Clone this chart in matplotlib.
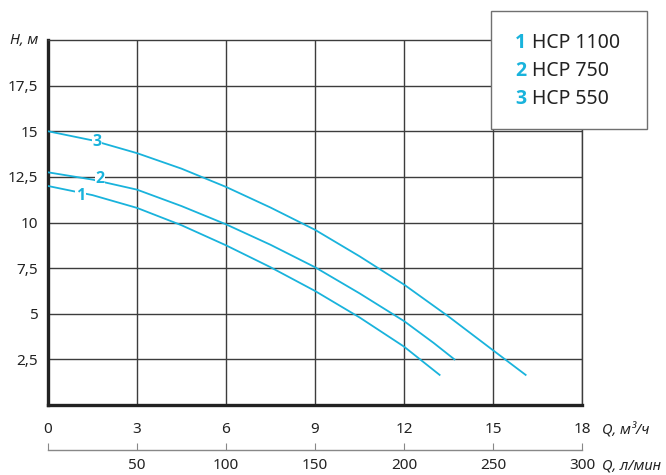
import matplotlib
matplotlib.use('Agg')
import matplotlib.pyplot as plt
from matplotlib.patches import Rectangle

plt.rcParams['font.family'] = ['Noto Sans', 'DejaVu Sans']

# подача, м3/ч и напор, м
q_550 = [0, 1.5, 3, 4.5, 6, 7.5, 9, 10.5, 12, 13.5, 15, 16.1]
h_550 = [15.0, 14.5, 13.8, 12.95, 11.95, 10.82, 9.6, 8.15, 6.6, 4.85, 3.0, 1.65]
q_750 = [0, 1.5, 3, 4.5, 6, 7.5, 9, 10.5, 12, 13.0, 13.7]
h_750 = [12.75, 12.35, 11.8, 10.9, 9.9, 8.78, 7.55, 6.12, 4.6, 3.4, 2.5]
q_1100 = [0, 1.5, 3, 4.5, 6, 7.5, 9, 10.5, 12, 13.2]
h_1100 = [12.0, 11.5, 10.8, 9.85, 8.75, 7.55, 6.25, 4.8, 3.2, 1.65]

models = ['HCP 1100', 'HCP 750', 'HCP 550']
curve_labels = ['1', '2', '3']
label_pos = [(1.1, 11.45), (1.75, 12.4), (1.65, 14.4)]

x_ticks = [0, 3, 6, 9, 12, 15, 18]
y_ticks = [2.5, 5, 7.5, 10, 12.5, 15, 17.5]
y_ticklabels = ['2,5', '5', '7,5', '10', '12,5', '15', '17,5']
lmin_ticks = [0, 50, 100, 150, 200, 250, 300]

cyan = '#19b3dc'
grid_c = '#3c3c3c'
bold_font = ['Open Sans', 'DejaVu Sans']

fig = plt.figure(figsize=(6.66, 4.75), dpi=100)
ax = fig.add_axes([48 / 666, 70 / 475, 534 / 666, 365 / 475])

ax.set_xlim(0, 18)
ax.set_ylim(0, 20)
ax.set_xticks(x_ticks)
ax.set_yticks(y_ticks)
ax.set_yticklabels(y_ticklabels)
ax.tick_params(length=0, labelsize=11, colors='#222222')
ax.tick_params(axis='x', pad=12)
ax.tick_params(axis='y', pad=7)
ax.grid(True, color=grid_c, linewidth=1.0)
ax.set_axisbelow(True)
for s in ['left', 'bottom']:
    ax.spines[s].set_linewidth(2.4)
    ax.spines[s].set_color('#222222')
for s in ['top', 'right']:
    ax.spines[s].set_linewidth(1.0)
    ax.spines[s].set_color(grid_c)

for q, h in [(q_1100, h_1100), (q_750, h_750), (q_550, h_550)]:
    ax.plot(q, h, color=cyan, linewidth=1.3, zorder=3)

for lbl, (x, y) in zip(curve_labels, label_pos):
    ax.text(x, y, lbl, color=cyan, fontsize=11.5, fontweight='bold', family=bold_font,
            ha='center', va='center', zorder=4,
            bbox=dict(facecolor='white', edgecolor='none', pad=0.6))

ax.text(-0.32, 20.0, 'H, м', fontsize=10.5, style='italic', ha='right', va='center', color='#222222')
fig.text(602 / 666, 1 - 431 / 475, 'Q, м³/ч', fontsize=10.5, style='italic', ha='left', va='center', color='#222222')

# вторая шкала, л/мин
ax2 = fig.add_axes([48 / 666, 25 / 475, 534 / 666, 0.001])
ax2.set_xlim(0, 300)
ax2.set_xticks(lmin_ticks)
ax2.set_xticklabels([''] + [str(v) for v in lmin_ticks[1:]])
ax2.set_yticks([])
for s in ['left', 'right', 'top']:
    ax2.spines[s].set_visible(False)
ax2.spines['bottom'].set_color('#888888')
ax2.spines['bottom'].set_linewidth(1.0)
ax2.tick_params(axis='x', direction='in', length=5, color='#888888', labelsize=11, labelcolor='#222222', pad=6)
ax2.patch.set_alpha(0)
fig.text(602 / 666, 1 - 466 / 475, 'Q, л/мин', fontsize=10.5, style='italic', ha='left', va='center', color='#222222')

# легенда
fig.add_artist(Rectangle((491 / 666, 1 - 129 / 475), 156 / 666, 118 / 475, transform=fig.transFigure,
                         facecolor='white', edgecolor='#707070', linewidth=1.0, zorder=5))
for i, (num, name) in enumerate(zip(curve_labels, models)):
    y = 1 - (43 + 28 * i) / 475
    fig.text(515 / 666, y, num, color=cyan, fontsize=14, fontweight='bold', family=bold_font,
             ha='left', va='center', zorder=6)
    fig.text(532 / 666, y, name, color='#222222', fontsize=14, ha='left', va='center', zorder=6)

fig.savefig('out.png', dpi=100)
